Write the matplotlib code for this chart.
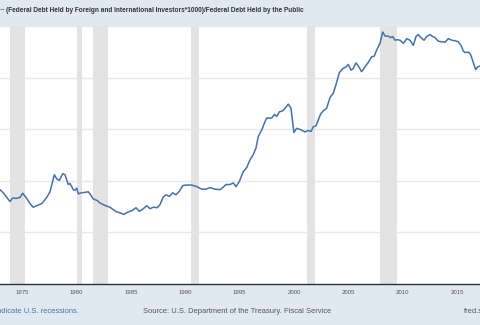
import matplotlib
matplotlib.use("Agg")
import matplotlib.pyplot as plt

years = [1972.70, 1972.95, 1973.25, 1973.87, 1974.12, 1974.42, 1974.79, 1975.04, 1975.34, 1975.71,
         1976.01, 1976.33, 1976.79, 1977.25, 1977.55, 1977.76, 1977.95, 1978.17, 1978.41, 1978.72,
         1978.93, 1979.09, 1979.23, 1979.39, 1979.55, 1979.69, 1979.85, 1980.01, 1980.15, 1980.47,
         1980.86, 1981.07, 1981.29, 1981.53, 1981.90, 1982.15, 1982.45, 1982.77, 1983.07, 1983.37,
         1983.69, 1983.99, 1984.36, 1984.75, 1985.07, 1985.46, 1985.77, 1986.13, 1986.45, 1986.75,
         1987.05, 1987.42, 1987.67, 1987.97, 1988.22, 1988.53, 1988.84, 1989.14, 1989.45, 1989.76,
         1990.06, 1990.59, 1991.05, 1991.51, 1991.90, 1992.27, 1992.73, 1993.19, 1993.49, 1993.74,
         1994.11, 1994.41, 1994.66, 1994.97, 1995.33, 1995.65, 1995.95, 1996.25, 1996.50, 1996.71,
         1997.03, 1997.33, 1997.49, 1997.95, 1998.19, 1998.41, 1998.65, 1998.96, 1999.26, 1999.47,
         1999.72, 1999.99, 2000.24, 2000.55, 2001.01, 2001.31, 2001.56, 2001.77, 2002.02, 2002.23,
         2002.45, 2002.69, 2003.00, 2003.31, 2003.61, 2003.93, 2004.17, 2004.48, 2004.78, 2004.99,
         2005.24, 2005.45, 2005.70, 2005.91, 2006.22, 2006.53, 2006.83, 2007.15, 2007.38, 2007.60,
         2007.91, 2008.16, 2008.37, 2008.67, 2008.89, 2009.08, 2009.29, 2009.50, 2009.75, 2010.05,
         2010.37, 2010.67, 2010.97, 2011.22, 2011.43, 2011.68, 2011.96, 2012.20, 2012.51, 2012.76,
         2012.97, 2013.27, 2013.59, 2013.89, 2014.19, 2014.51, 2014.81, 2015.11, 2015.36, 2015.57,
         2015.73, 2016.03, 2016.25, 2016.49, 2016.71, 2016.89, 2017.11, 2017.30]
ratio = [0.186, 0.183, 0.177, 0.160, 0.167, 0.166, 0.168, 0.176, 0.168, 0.156,
         0.149, 0.152, 0.156, 0.168, 0.179, 0.196, 0.212, 0.204, 0.201, 0.214,
         0.212, 0.202, 0.193, 0.195, 0.189, 0.183, 0.182, 0.186, 0.175, 0.177,
         0.178, 0.179, 0.173, 0.165, 0.162, 0.157, 0.154, 0.151, 0.149, 0.144,
         0.140, 0.138, 0.135, 0.140, 0.142, 0.148, 0.141, 0.146, 0.152, 0.146,
         0.149, 0.148, 0.154, 0.169, 0.173, 0.170, 0.177, 0.173, 0.180, 0.191,
         0.192, 0.192, 0.189, 0.184, 0.184, 0.187, 0.184, 0.183, 0.188, 0.193,
         0.193, 0.196, 0.189, 0.199, 0.218, 0.226, 0.241, 0.251, 0.264, 0.286,
         0.299, 0.315, 0.322, 0.322, 0.329, 0.325, 0.334, 0.336, 0.343, 0.349,
         0.341, 0.294, 0.302, 0.300, 0.295, 0.298, 0.296, 0.305, 0.307, 0.318,
         0.330, 0.336, 0.341, 0.362, 0.370, 0.392, 0.410, 0.418, 0.421, 0.426,
         0.415, 0.418, 0.429, 0.423, 0.412, 0.421, 0.430, 0.441, 0.442, 0.454,
         0.467, 0.489, 0.481, 0.481, 0.478, 0.480, 0.473, 0.474, 0.473, 0.467,
         0.476, 0.473, 0.463, 0.480, 0.484, 0.478, 0.473, 0.480, 0.484, 0.480,
         0.478, 0.471, 0.470, 0.469, 0.476, 0.473, 0.472, 0.470, 0.463, 0.452,
         0.449, 0.450, 0.445, 0.430, 0.416, 0.421, 0.423, 0.425]

recessions = [(1973.83, 1975.25), (1980.0, 1980.5), (1981.5, 1982.92),
              (1990.5, 1991.25), (2001.17, 2001.92), (2007.92, 2009.5)]
tick_years = [1975, 1980, 1985, 1990, 1995, 2000, 2005, 2010, 2015]
y_grid = [0.1, 0.2, 0.3, 0.4, 0.5]

title = "(Federal Debt Held by Foreign and International Investors*1000)/Federal Debt Held by the Public"
note = "Shaded areas indicate U.S. recessions."
source = "Source: U.S. Department of the Treasury. Fiscal Service"
site = "fred.stlouisfed.org"

BG = "#e1e9f0"
LINE = "#4572a7"

fig = plt.figure(figsize=(4.8, 3.25), dpi=100, facecolor=BG)
W, H = 480, 325
ax = fig.add_axes([0, 1 - 284 / H, 1, (284 - 26.3) / H])
ax.set_facecolor("white")

for a, b in recessions:
    ax.axvspan(a, b, color="#e3e3e3", lw=0, zorder=1)
for g in y_grid:
    ax.axhline(g, color="#e8e8e8", lw=1, zorder=0.5)

ax.plot(years, ratio, color=LINE, lw=1.1, zorder=3)

ax.set_xlim(1972.95, 1972.95 + 480 / 10.87)
ax.set_ylim(0, 0.5)
ax.set_yticks([])
ax.set_xticks(tick_years)
ax.set_xticklabels([str(t) for t in tick_years], fontsize=4.3, color="#555555",
                   family="Liberation Sans")
ax.tick_params(axis="x", length=0, pad=4.5)
for s in ["top", "left", "right"]:
    ax.spines[s].set_visible(False)
ax.spines["bottom"].set_color("#333333")
ax.spines["bottom"].set_linewidth(1.0)

# title bar
fig.text(0 / W, 1 - 10 / H, "\u2013", color=LINE, fontsize=6, fontweight="bold",
         ha="left", va="center", family="Liberation Sans")
fig.text(6.5 / W, 1 - 10.5 / H, title, color="#333333", fontsize=4.7, fontweight="bold",
         ha="left", va="center", family="Liberation Sans")

# footer
fs = 5.45
fig.text(79 / W, 1 - 311.5 / H, note, color="#4572a7", fontsize=fs,
         ha="right", va="center", family="Liberation Sans")
fig.text(143 / W, 1 - 311.5 / H, source, color="#555555", fontsize=fs,
         ha="left", va="center", family="Liberation Sans")
fig.text(464 / W, 1 - 311.5 / H, site, color="#555555", fontsize=fs,
         ha="left", va="center", family="Liberation Sans")

fig.savefig("out.png", dpi=100, facecolor=BG)
